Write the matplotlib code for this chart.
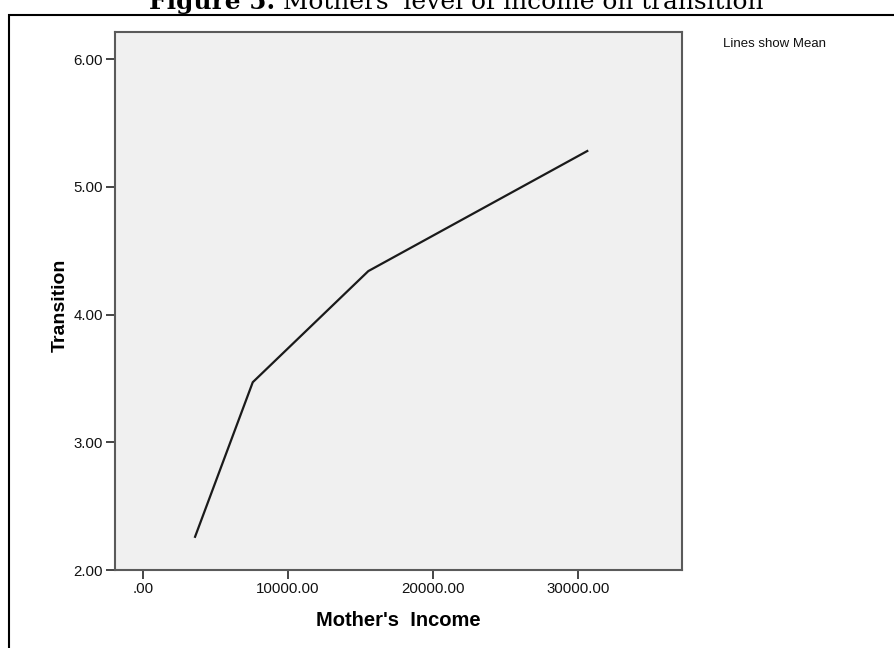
import matplotlib
matplotlib.use("Agg")
import matplotlib.pyplot as plt
from matplotlib.patches import Rectangle

# ---- data ----
income = [3590, 7570, 15540, 30640]
transition = [2.26, 3.47, 4.34, 5.28]
xticks = [0, 10000, 20000, 30000]
xtick_labels = [".00", "10000.00", "20000.00", "30000.00"]
yticks = [2, 3, 4, 5, 6]
ytick_labels = ["2.00", "3.00", "4.00", "5.00", "6.00"]
title_bold = "Figure 5."
title_rest = " Mothers' level of income on transition"
xlabel = "Mother's  Income"
ylabel = "Transition"
note = "Lines show Mean"

W, H = 894, 648
fig = plt.figure(figsize=(W / 100, H / 100), dpi=100)
fig.patch.set_facecolor("white")

sans = ["Liberation Sans", "DejaVu Sans"]

# axes in pixel geometry
L, R, T, B = 115, 682, 31.7, 570
ax = fig.add_axes([L / W, (H - B) / H, (R - L) / W, (B - T) / H])
ax.set_facecolor("#f0f0f0")
ax.plot(income, transition, color="#1a1a1a", lw=1.6, solid_joinstyle="miter")
ax.set_xlim(-1931, 37172)
ax.set_ylim(2.0, 6.214)
ax.set_xticks(xticks)
ax.set_xticklabels(xtick_labels, fontfamily=sans, fontsize=10.8, color="#111111")
ax.set_yticks(yticks)
ax.set_yticklabels(ytick_labels, fontfamily=sans, fontsize=10.8, color="#111111")
ax.tick_params(direction="out", length=6.5, width=1.4, color="#444444", pad=2)
for s in ax.spines.values():
    s.set_color("#5a5a5a")
    s.set_linewidth(1.5)

ax.set_xlabel(xlabel, fontfamily=sans, fontsize=14.5, fontweight="bold")
ax.xaxis.set_label_coords(0.5, (B - 620) / (B - T))
ax.xaxis.label.set_va("center")
ax.set_ylabel(ylabel, fontfamily=sans, fontsize=14, fontweight="bold")
ax.yaxis.set_label_coords((60 - L) / (R - L), (B - 305) / (B - T))
ax.yaxis.label.set_va("center")

fig.text(723 / W, 1 - 44 / H, note, fontfamily=sans, fontsize=9.5,
         ha="left", va="center", color="#111111")

# outer frame (right & bottom sides beyond the canvas)
fig.patches.append(Rectangle((8.5 / W, -0.2), 1.5, 1.2 - 14.5 / H,
                             transform=fig.transFigure, fill=False,
                             edgecolor="black", lw=1.5, clip_on=False))

# title, cut at the top of the canvas
fig.canvas.draw()
rend = fig.canvas.get_renderer()
fs = 16
t1 = fig.text(0, 0, title_bold, fontfamily="DejaVu Serif", fontweight="bold", fontsize=fs)
t2 = fig.text(0, 0, title_rest, fontfamily="DejaVu Serif", fontsize=fs)
w = t1.get_window_extent(rend).width + t2.get_window_extent(rend).width
fs = fs * 614 / w
t1.set_fontsize(fs)
t2.set_fontsize(fs)
w1 = t1.get_window_extent(rend).width
base_y = 1 - 9 / H
t1.set_position((149 / W, base_y))
t1.set_va("baseline")
t2.set_position((149 / W + w1 / W, base_y))
t2.set_va("baseline")

fig.savefig("out.png", dpi=100)
